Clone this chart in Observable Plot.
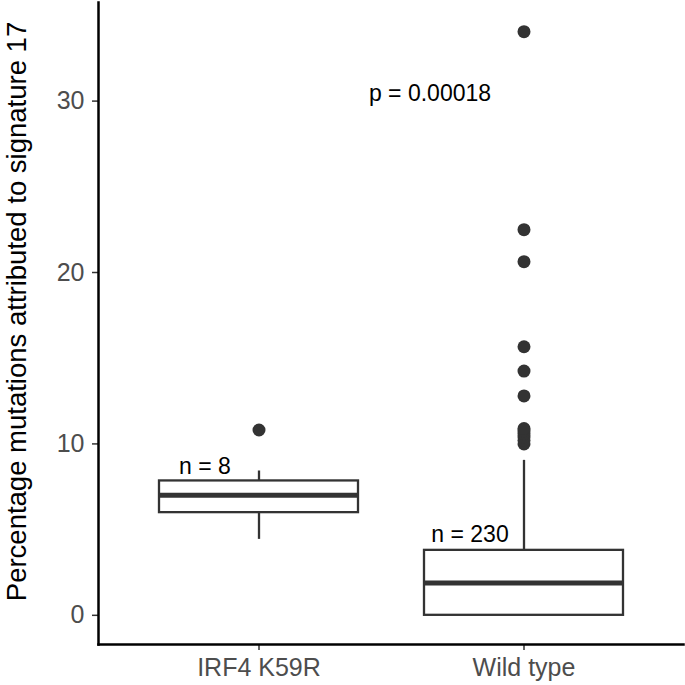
<!DOCTYPE html>
<html>
<head>
<meta charset="utf-8">
<script src="https://cdn.jsdelivr.net/npm/d3@7"></script>
<script src="https://cdn.jsdelivr.net/npm/@observablehq/plot@0.6"></script>
<style>
  html, body { margin: 0; padding: 0; background: #fff; }
  #chart svg { display: block; }
</style>
</head>
<body>
<div id="chart"></div>
<script>
// Groups
const groups = ["IRF4 K59R", "Wild type"];
const nLabels = ["n = 8", "n = 230"];
// Box statistics (percent)
const lowerWhisker = [4.43, 0];
const q1 = [5.99, 0];
const median = [7.0, 1.88];
const q3 = [7.84, 3.79];
const upperWhisker = [8.42, 9.04];
// Outliers
const outlierGroup = ["IRF4 K59R", "Wild type", "Wild type", "Wild type", "Wild type", "Wild type", "Wild type", "Wild type", "Wild type", "Wild type", "Wild type", "Wild type", "Wild type"];
const outlierValue = [10.81, 10.0, 10.2, 10.4, 10.6, 10.75, 10.9, 12.8, 14.25, 15.67, 20.63, 22.5, 34.05];
// label positions (value units)
const nLabelY = [8.7, 4.7];
const pLabel = "p = 0.00018";
const pLabelY = 30.45;
const yTicks = [0, 10, 20, 30];
const yTitle = "Percentage mutations attributed to signature 17";

const boxes = groups.map((g, i) => ({g, lo: lowerWhisker[i], q1: q1[i], med: median[i], q3: q3[i], hi: upperWhisker[i], n: nLabels[i], ny: nLabelY[i]}));
const outliers = outlierGroup.map((g, i) => ({g, v: outlierValue[i]}));

const yMax = d3.max(outlierValue);
const pad = yMax * 0.05;
const col = "#333333";

const chart = Plot.plot({
  width: 685,
  height: 685,
  marginLeft: 98,
  marginRight: 2,
  marginTop: 2,
  marginBottom: 41,
  style: {fontFamily: "'Liberation Sans', Arial, sans-serif", background: "#fff"},
  x: {type: "band", domain: groups, paddingInner: 0.25, paddingOuter: 0.225, label: null},
  y: {domain: [-pad, yMax + pad], label: null},
  marks: [
    Plot.ruleX(boxes, {x: "g", y1: "lo", y2: "q1", stroke: col, strokeWidth: 2.3}),
    Plot.ruleX(boxes, {x: "g", y1: "q3", y2: "hi", stroke: col, strokeWidth: 2.3}),
    Plot.barY(boxes, {x: "g", y1: "q1", y2: "q3", fill: "white", stroke: col, strokeWidth: 2.3}),
    Plot.tickY(boxes, {x: "g", y: "med", stroke: col, strokeWidth: 5}),
    Plot.dot(outliers, {x: "g", y: "v", r: 6.5, fill: col, stroke: "none"}),
    Plot.text(boxes, {x: "g", y: "ny", text: "n", dx: -54, fontSize: 23, fill: "black"}),
    Plot.text([pLabel], {x: () => groups[1], y: () => pLabelY, text: d => d, dx: -94, fontSize: 23, fill: "black"}),
    Plot.axisY({ticks: yTicks, tickSize: 6, tickPadding: 8, fontSize: 25, color: "#4d4d4d", stroke: col, strokeWidth: 1.5, label: null}),
    Plot.axisX({tickSize: 6, tickPadding: 8, fontSize: 25, color: "#4d4d4d", stroke: col, strokeWidth: 1.5, label: null}),
    Plot.frame({anchor: "left", stroke: "black", strokeWidth: 2.5}),
    Plot.frame({anchor: "bottom", stroke: "black", strokeWidth: 2.5}),
    Plot.text([yTitle], {frameAnchor: "left", text: d => d, rotate: -90, textAnchor: "middle", dx: -81, dy: -12, fontSize: 27.5, fill: "black"})
  ]
});
document.getElementById("chart").appendChild(chart);
</script>
</body>
</html>
